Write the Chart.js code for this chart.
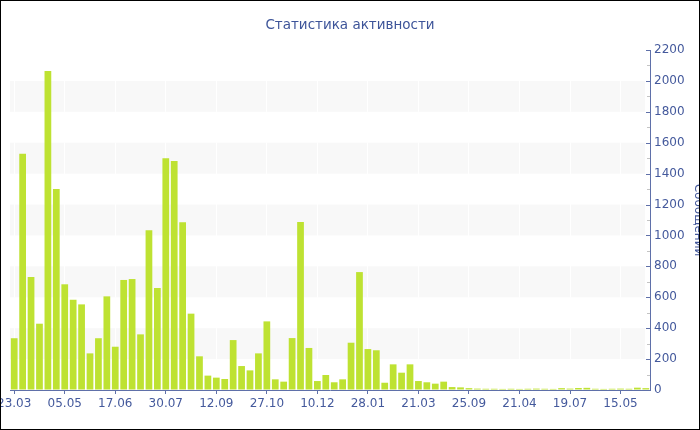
<!DOCTYPE html>
<html>
<head>
<meta charset="utf-8">
<script src="https://cdn.jsdelivr.net/npm/chart.js@4/dist/chart.umd.min.js"></script>
<style>
  html, body { margin: 0; padding: 0; background: #fff; }
  #wrap { width: 700px; height: 430px; border: 1px solid #000; box-sizing: border-box; }
  canvas { display: block; }
</style>
</head>
<body>
<div id="wrap"><canvas id="activityChart" width="698" height="428"></canvas></div>
<script>
// Messages per period
const messages = [
  335, 1529, 731, 429, 2064, 1300, 684, 584, 554, 237,
  335, 606, 280, 712, 718, 360, 1033, 660, 1499, 1482,
  1085, 494, 218, 93, 80, 71, 323, 155, 127, 237,
  444, 69, 54, 336, 1087, 272, 58, 97, 50, 69,
  306, 763, 265, 257, 47, 166, 112, 166, 58, 50,
  41, 54, 19, 17, 12, 9, 8, 8, 7, 8,
  7, 8, 9, 8, 7, 12, 9, 13, 14, 8,
  7, 8, 9, 8, 15, 12
];

// Only every 6th period carries a date label
const tickLabels = ['23.03', '05.05', '17.06', '30.07', '12.09', '27.10', '10.12',
                    '28.01', '21.03', '25.09', '21.04', '19.07', '15.05'];
const labelStep = 6;
const categories = messages.map((_, i) => i % labelStep === 0 ? tickLabels[i / labelStep] : '');

// y ranges of the shaded stripes
const bandRanges = [[200, 400], [600, 800], [1000, 1200], [1400, 1600], [1800, 2000]];

const axisColor = '#5f70a9';
const textColor = '#44599c';
const fontFamily = '"DejaVu Sans", Verdana, sans-serif';

// shaded stripes behind the bars
const bandsPlugin = {
  id: 'bands',
  beforeDraw(chart) {
    const { ctx, chartArea: a, scales: { y } } = chart;
    ctx.save();
    ctx.fillStyle = '#f8f8f8';
    bandRanges.forEach(([lo, hi]) => {
      const top = y.getPixelForValue(hi);
      const bot = y.getPixelForValue(lo);
      ctx.fillRect(a.left, top, a.right - a.left - 5, bot - top);
    });
    ctx.restore();
  }
};

// major / minor tick marks on the inner side of the right axis
const yTicksPlugin = {
  id: 'yTicks',
  afterDraw(chart) {
    const { ctx, scales: { y } } = chart;
    const x = Math.round(y.left);
    ctx.save();
    ctx.lineWidth = 1;
    for (let v = 0; v <= y.max; v += 100) {
      const py = Math.round(y.getPixelForValue(v)) + 0.5;
      const major = v % 200 === 0;
      ctx.strokeStyle = major ? axisColor : '#c4c4c4';
      ctx.beginPath();
      ctx.moveTo(x - (major ? 4 : 3), py);
      ctx.lineTo(x + (major ? 1 : 0), py);
      ctx.stroke();
    }
    ctx.restore();
  }
};

const ctx = document.getElementById('activityChart').getContext('2d');

const activityChart = new Chart(ctx, {
  type: 'bar',
  data: {
    labels: categories,
    datasets: [{
      label: 'Сообщений',
      data: messages,
      backgroundColor: '#bee232',
      borderWidth: 0,
      barPercentage: 0.8,
      categoryPercentage: 1.0
    }]
  },
  options: {
    responsive: false,
    animation: false,
    layout: { padding: 0 },
    plugins: {
      legend: { display: false },
      tooltip: { enabled: false },
      title: {
        display: true,
        text: 'Статистика активности',
        color: '#3d5499',
        font: { family: fontFamily, size: 13.5, weight: 'normal', lineHeight: 18 / 13.5 },
        padding: { top: 15, bottom: 16 }
      }
    },
    scales: {
      x: {
        offset: true,
        grid: {
          offset: false,
          color: c => c.index % labelStep === 0 ? 'rgba(255,255,255,0.9)' : 'rgba(0,0,0,0)',
          tickColor: c => c.index % labelStep === 0 ? axisColor : 'rgba(0,0,0,0)',
          tickLength: 4
        },
        border: { display: true, color: axisColor, width: 1 },
        ticks: {
          autoSkip: false,
          maxRotation: 0,
          minRotation: 0,
          padding: 3,
          color: textColor,
          font: { family: fontFamily, size: 12 },
          callback: (v, i) => categories[i]
        },
        // keep the left gap small so the first label is cut by the edge
        afterFit: s => { s.paddingLeft = 9; s.paddingRight = 0; s.height = 39; }
      },
      y: {
        position: 'right',
        min: 0,
        max: 2200,
        grid: { drawOnChartArea: false, drawTicks: false },
        border: { display: true, color: axisColor, width: 1 },
        ticks: {
          stepSize: 200,
          autoSkip: false,
          padding: 4,
          color: textColor,
          font: { family: fontFamily, size: 12 },
          callback: v => String(v)
        },
        title: {
          display: true,
          text: 'Сообщений',
          color: textColor,
          font: { family: fontFamily, size: 12, lineHeight: 1 },
          padding: { top: -5, bottom: 0 }
        },
        afterFit: s => { s.width = 49; }
      }
    }
  },
  plugins: [bandsPlugin, yTicksPlugin]
});
</script>
</body>
</html>
